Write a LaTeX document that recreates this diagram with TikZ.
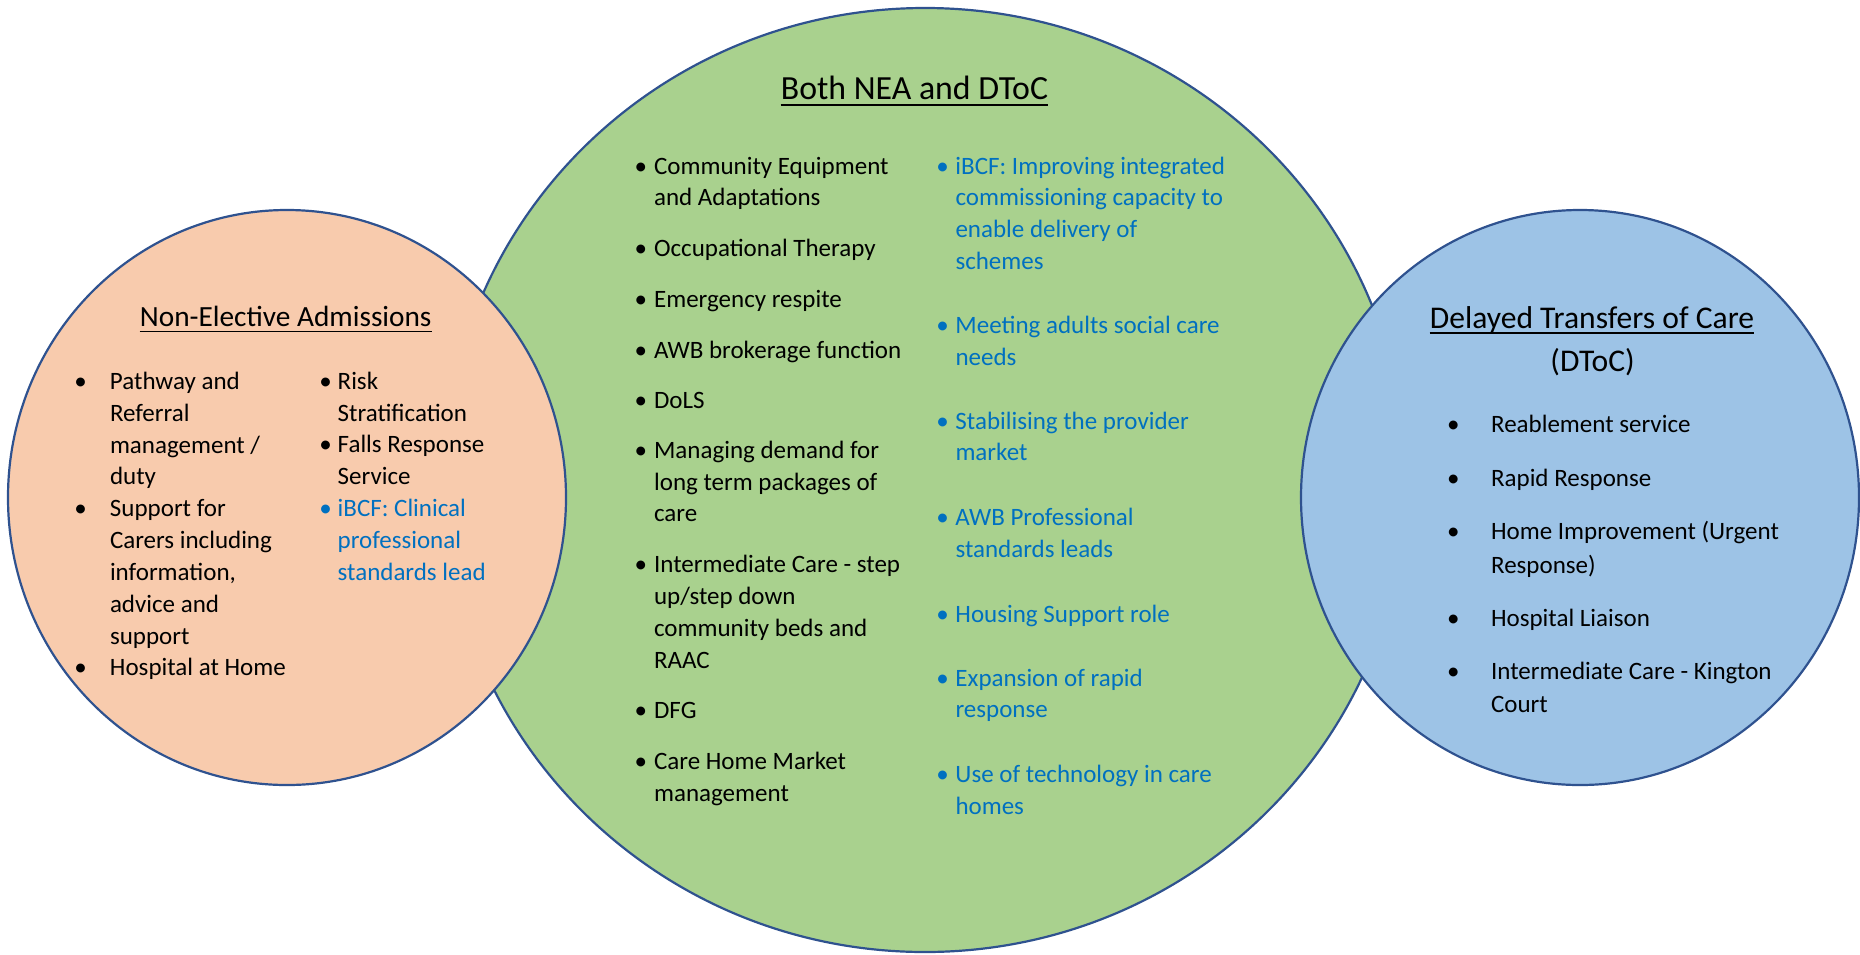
\documentclass[tikz,border=0pt]{standalone}
\usepackage{fontspec}
\setmainfont{Carlito}

\definecolor{neaFill}{HTML}{F8CBAD}
\definecolor{bothFill}{HTML}{A9D18E}
\definecolor{dtocFill}{HTML}{9DC3E6}
\definecolor{rimBlue}{HTML}{2F528F}
\definecolor{ibcfBlue}{HTML}{0070C0}

% bullet hanging #1 to the left of the text start, lines of #2 stacked
\newcommand{\bul}[2]{\llap{\makebox[0pt][c]{\textbullet}\hspace{#1}}\begin{tabular}[t]{@{}l@{}}#2\end{tabular}}

\tikzset{
  zone/.style={draw=rimBlue, line width=2.2pt},
  heading/.style={inner sep=0pt, anchor=base, text=black},
  entry/.style={inner sep=0pt, anchor=base west, text=black,
    font=\fontsize{25}{31.8}\selectfont},
  wide/.style={font=\fontsize{25}{33.4}\selectfont},
  ibcf/.style={text=ibcfBlue},
  ul/.style={line width=1.6pt, draw=black}
}

\begin{document}
\begin{tikzpicture}[x=1pt, y=-1pt]
\useasboundingbox (0,0) rectangle (1860,954);

% the three overlapping zones
\draw[zone, fill=bothFill] (925,480) ellipse [x radius=481pt, y radius=472pt];
\draw[zone, fill=neaFill] (287,497.5) ellipse [x radius=279pt, y radius=287.5pt];
\draw[zone, fill=dtocFill] (1580,497.5) ellipse [x radius=279pt, y radius=287.5pt];

% headings
\node[heading, font=\fontsize{29.3}{35}\selectfont] (nea) at (285.7,326.3) {Non-Elective Admissions};
\draw[ul] ([yshift=-5pt]nea.base west) -- ([yshift=-5pt]nea.base east);

\node[heading, font=\fontsize{33.8}{40}\selectfont] (both) at (914.5,99.3) {Both NEA and DToC};
\draw[ul] ([yshift=-5.5pt]both.base west) -- ([yshift=-5.5pt]both.base east);

\node[heading, font=\fontsize{31.6}{38}\selectfont] (dtoc) at (1592,328.2) {Delayed Transfers of Care};
\draw[ul] ([yshift=-4.8pt]dtoc.base west) -- ([yshift=-4.8pt]dtoc.base east);
\node[heading, font=\fontsize{31.6}{38}\selectfont] (dtocb) at (1592.6,371) {(DToC)};

% Non-Elective Admissions
\node[entry] (n1) at (109.8,389.4) {\bul{29.4pt}{Pathway and\\Referral\\management /\\duty}};
\node[entry] (n2) at (109.8,516.9) {\bul{29.4pt}{Support for\\Carers including\\information,\\advice and\\support}};
\node[entry] (n3) at (109.8,675.3) {\bul{29.4pt}{Hospital at Home}};
\node[entry] (n4) at (337.5,389.4) {\bul{12.2pt}{Risk\\Stratification}};
\node[entry] (n5) at (337.5,452.6) {\bul{12.2pt}{Falls Response\\Service}};
\node[entry, ibcf] (n6) at (337.5,516.9) {\bul{12.2pt}{iBCF: Clinical\\professional\\standards lead}};

% Both NEA and DToC, first column
\node[entry] (b1) at (653.9,174) {\bul{13.3pt}{Community Equipment\\and Adaptations}};
\node[entry] (b2) at (653.9,256.7) {\bul{13.3pt}{Occupational Therapy}};
\node[entry] (b3) at (653.9,307.7) {\bul{13.3pt}{Emergency respite}};
\node[entry] (b4) at (653.9,358.7) {\bul{13.3pt}{AWB brokerage function}};
\node[entry] (b5) at (653.9,408.3) {\bul{13.3pt}{DoLS}};
\node[entry] (b6) at (653.9,458.3) {\bul{13.3pt}{Managing demand for\\long term packages of\\care}};
\node[entry] (b7) at (653.9,572.7) {\bul{13.3pt}{Intermediate Care - step\\up/step down\\community beds and\\RAAC}};
\node[entry] (b8) at (653.9,718.3) {\bul{13.3pt}{DFG}};
\node[entry] (b9) at (653.9,769.3) {\bul{13.3pt}{Care Home Market\\management}};

% Both NEA and DToC, iBCF column
\node[entry, ibcf] (c1) at (955.3,174) {\bul{12.8pt}{iBCF: Improving integrated\\commissioning capacity to\\enable delivery of\\schemes}};
\node[entry, ibcf] (c2) at (955.3,333.3) {\bul{12.8pt}{Meeting adults social care\\needs}};
\node[entry, ibcf] (c3) at (955.3,429) {\bul{12.8pt}{Stabilising the provider\\market}};
\node[entry, ibcf] (c4) at (955.3,525.5) {\bul{12.8pt}{AWB Professional\\standards leads}};
\node[entry, ibcf] (c5) at (955.3,622.7) {\bul{12.8pt}{Housing Support role}};
\node[entry, ibcf] (c6) at (955.3,686) {\bul{12.8pt}{Expansion of rapid\\response}};
\node[entry, ibcf] (c7) at (955.3,782.7) {\bul{12.8pt}{Use of technology in care\\homes}};

% Delayed Transfers of Care
\node[entry, wide] (d1) at (1490.9,432.7) {\bul{37.8pt}{Reablement service}};
\node[entry, wide] (d2) at (1490.9,486.3) {\bul{37.8pt}{Rapid Response}};
\node[entry, wide] (d3) at (1490.9,539.8) {\bul{37.8pt}{Home Improvement (Urgent\\Response)}};
\node[entry, wide] (d4) at (1490.9,626.7) {\bul{37.8pt}{Hospital Liaison}};
\node[entry, wide] (d5) at (1490.9,679.1) {\bul{37.8pt}{Intermediate Care - Kington\\Court}};
\end{tikzpicture}
\end{document}
